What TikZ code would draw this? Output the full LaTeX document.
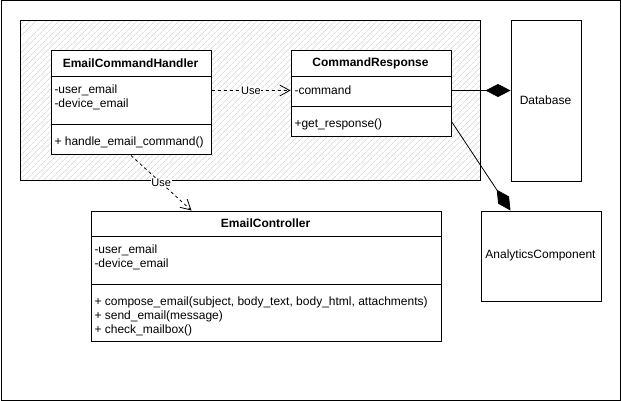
\documentclass[tikz,border=0pt]{standalone}
\usepackage{fontspec}
\setmainfont{Liberation Sans}
\usetikzlibrary{arrows.meta,patterns.meta}
\begin{document}
\begin{tikzpicture}[x=1pt,y=-1pt,line width=1pt,
  box/.style={draw, inner sep=0pt, anchor=north west},
  ttl/.style={font=\fontsize{12}{14}\selectfont\bfseries, inner sep=0pt},
  txt/.style={font=\fontsize{12}{14}\selectfont, inner sep=0pt, anchor=west, align=left},
  plain/.style={font=\fontsize{12}{14}\selectfont, inner sep=0pt},
  lbl/.style={font=\fontsize{11}{13}\selectfont, fill=white, inner sep=0.6pt},
  use/.style={draw, line width=0.8pt, dash pattern=on 3pt off 3pt, -{Straight Barb[length=10pt,width=11pt,line width=0.8pt]}},
  comp/.style={draw, line width=0.8pt, -{Diamond[length=25pt,width=13pt]}}
]
\useasboundingbox (0,0) rectangle (621,401);
\node[box, minimum width=619pt, minimum height=399pt] (frame) at (0.5,0.5) {};
\node[box, minimum width=460pt, minimum height=160pt,
  pattern={Lines[angle=45,distance=4pt,line width=0.5pt]}, pattern color=black!22] (pkg) at (20.5,20.5) {};

% EmailCommandHandler
\node[box, fill=white, minimum width=160pt, minimum height=104pt] (ech) at (50.5,50.5) {};
\draw (50.5,76.5) -- (210.5,76.5);
\draw (50.5,124.5) -- (210.5,124.5);
\node[ttl] (echT) at (130.5,63.5) {EmailCommandHandler};
\node[txt] (echA) at (54,97) {-user\_email\\-device\_email};
\node[txt] (echM) at (54,142) {+ handle\_email\_command()};

% CommandResponse
\node[box, fill=white, minimum width=160pt, minimum height=86pt] (cr) at (290.5,50.5) {};
\draw (290.5,76.5) -- (450.5,76.5);
\draw (290.5,106.5) -- (450.5,106.5);
\node[ttl] (crT) at (370.5,63.5) {CommandResponse};
\node[txt] (crA) at (294,90.5) {-command};
\node[txt] (crM) at (294,124) {+get\_response()};

% Database
\node[box, fill=white, minimum width=70pt, minimum height=160pt] (db) at (510.5,20.5) {};
\node[plain] (dbT) at (545.5,100.5) {Database};

% AnalyticsComponent
\node[box, fill=white, minimum width=120pt, minimum height=90pt] (an) at (480.5,210.5) {};
\node[plain] (anT) at (540.5,255.5) {AnalyticsComponent};

% EmailController
\node[box, fill=white, minimum width=350pt, minimum height=130pt] (ctl) at (90.5,210.5) {};
\draw (90.5,236.5) -- (440.5,236.5);
\draw (90.5,284.5) -- (440.5,284.5);
\node[ttl] (ctlT) at (265.5,223.5) {EmailController};
\node[txt] (ctlA) at (94,257) {-user\_email\\-device\_email};
\node[txt] (ctlM) at (94,316) {+ compose\_email(subject, body\_text, body\_html, attachments)\\+ send\_email(message)\\+ check\_mailbox()};

% connectors
\draw[use] (ech.east |- crA.west) -- node[lbl] (u1) {Use} (cr.west |- crA.west);
\draw[use] (ech.south) -- node[lbl] (u2) {Use} ([xshift=101pt]ctl.north west);
\draw[comp] (cr.east |- crA.west) -- (db.west |- crA.west);
\draw[comp] ([yshift=-27.5pt]cr.east) -- ([xshift=30pt]an.north west);
\end{tikzpicture}
\end{document}
